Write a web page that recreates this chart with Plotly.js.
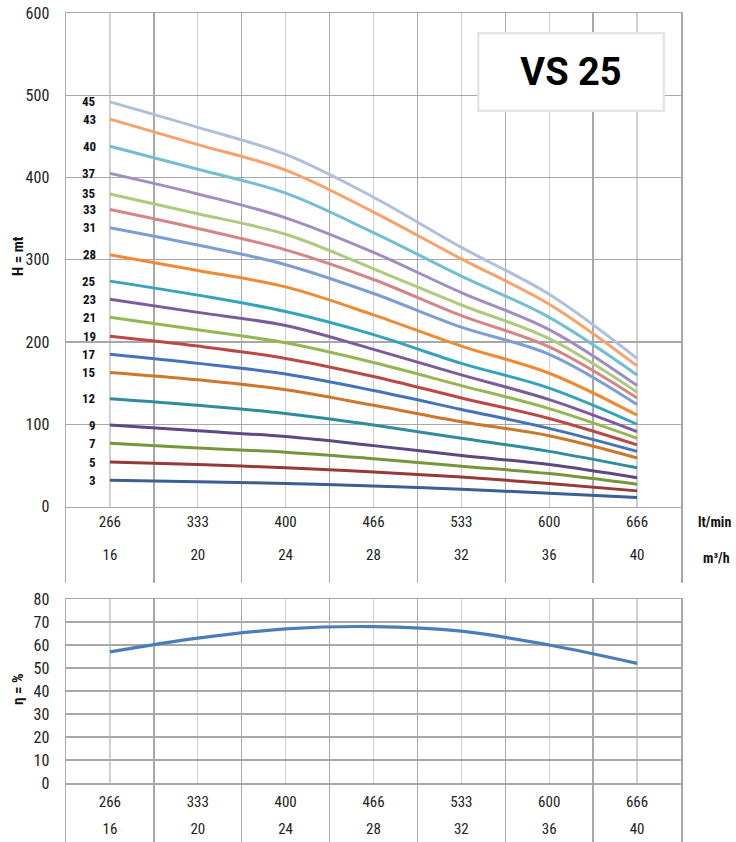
<!DOCTYPE html>
<html>
<head>
<meta charset="utf-8">
<script src="https://cdn.plot.ly/plotly-3.0.1.min.js"></script>
<style>html,body{margin:0;padding:0;background:#fff;}#chart{width:736px;height:842px;}</style>
</head>
<body>
<div id="chart"></div>
<script>
// ---- data ----
const flowLpm = ['266','333','400','466','533','600','666'];
const flowM3h = ['16','20','24','28','32','36','40'];
const stages = ['3','5','7','9','12','15','17','19','21','23','25','28','31','33','35','37','40','43','45'];
const H3  = [32, 30, 28, 25, 21, 16, 11];
const H5  = [54, 51, 47, 42, 36, 28, 19];
const H7  = [77, 71, 66, 58, 49, 40, 27];
const H9  = [99, 92, 85, 74, 62, 51, 35];
const H12 = [131, 123, 113, 99, 83, 67, 47];
const H15 = [163, 154, 142, 123, 103, 86, 59];
const H17 = [185, 174, 161, 141, 118, 95, 67];
const H19 = [207, 195, 180, 158, 132, 107, 75];
const H21 = [230, 215, 199, 175, 147, 119, 83];
const H23 = [252, 236, 220, 191, 160, 130, 91];
const H25 = [274, 257, 237, 209, 174, 144, 100];
const H28 = [306, 287, 267, 233, 195, 162, 111];
const H31 = [339, 318, 294, 259, 218, 185, 124];
const H33 = [361, 338, 312, 276, 232, 194, 132];
const H35 = [380, 356, 331, 289, 245, 204, 139];
const H37 = [405, 380, 351, 309, 260, 215, 147];
const H40 = [438, 410, 381, 333, 280, 230, 160];
const H43 = [471, 440, 409, 358, 301, 246, 171];
const H45 = [492, 461, 428, 376, 315, 258, 180];
const efficiency = [57, 63, 67, 68, 66, 60, 52];
const yTicksH = [0, 100, 200, 300, 400, 500, 600];
const yTicksEta = [0, 10, 20, 30, 40, 50, 60, 70, 80];

const heads = [H3,H5,H7,H9,H12,H15,H17,H19,H21,H23,H25,H28,H31,H33,H35,H37,H40,H43,H45];
const colors = ['#3B5E93','#953A37','#77963C','#5C4883','#2E8C9E','#CC772C','#4473B9','#BB4845','#95B652','#7A5C9E','#35A3BE','#EE8A32','#7B9ED4','#D58684','#ADCA7F','#A18EC1','#72BED3','#F8A26B','#B0BFDB'];

// pick an installed condensed face if there is one
function hasFont(f) {
  const c = document.createElement('canvas').getContext('2d');
  const t = '266 333 lt/min abcdefgWMQ';
  let diff = false;
  ['monospace', 'serif'].forEach(b => {
    c.font = '40px ' + b; const w0 = c.measureText(t).width;
    c.font = "40px '" + f + "', " + b; const w1 = c.measureText(t).width;
    if (Math.abs(w0 - w1) > 0.5) diff = true;
  });
  return diff;
}
const candidates = ['Roboto Condensed', 'Liberation Sans Narrow', 'Arial Narrow', 'DejaVu Sans Condensed', 'Noto Sans Condensed', 'Open Sans Condensed'];
let FONT = 'Roboto, sans-serif';
for (const f of candidates) { if (hasFont(f)) { FONT = "'" + f + "', Roboto, sans-serif"; break; } }

const xi = flowLpm.map((_, i) => i);

const traces = [];
heads.forEach((h, k) => {
  traces.push({x: xi, y: h, type: 'scatter', mode: 'lines', xaxis: 'x', yaxis: 'y',
    line: {color: colors[k], width: 3, shape: 'spline', smoothing: 1}, hoverinfo: 'skip'});
});
traces.push({x: xi, y: efficiency, type: 'scatter', mode: 'lines', xaxis: 'x2', yaxis: 'y2',
  line: {color: '#4A7EBB', width: 3.2, shape: 'spline', smoothing: 1}, hoverinfo: 'skip'});
// table rows
const tblFont = {family: FONT, size: 15, color: '#222'};
traces.push({x: xi, y: xi.map(() => 0.78), text: flowLpm, mode: 'text', type: 'scatter', xaxis: 'x3', yaxis: 'y3', textfont: tblFont, hoverinfo: 'skip'});
traces.push({x: xi, y: xi.map(() => 0.35), text: flowM3h, mode: 'text', type: 'scatter', xaxis: 'x3', yaxis: 'y3', textfont: tblFont, hoverinfo: 'skip'});
traces.push({x: xi, y: xi.map(() => 0.66), text: flowLpm, mode: 'text', type: 'scatter', xaxis: 'x4', yaxis: 'y4', textfont: tblFont, hoverinfo: 'skip'});
traces.push({x: xi, y: xi.map(() => 0.2), text: flowM3h, mode: 'text', type: 'scatter', xaxis: 'x4', yaxis: 'y4', textfont: tblFont, hoverinfo: 'skip'});

const H = 842;
const pd = px => (H - px) / H;
const GRID = '#a8a8a8', MINOR = '#d0d0d0';

function xAx(anchor, withMinor) {
  const a = {range: [-0.5, 6.5], anchor: anchor, domain: [0, 1], showticklabels: false, ticks: '',
    tick0: 0.5, dtick: 1, showgrid: true, gridcolor: GRID, gridwidth: 1.3, zeroline: false,
    showline: withMinor, mirror: withMinor, linecolor: GRID, linewidth: 1.5, fixedrange: true};
  if (withMinor) a.minor = {tick0: 0, dtick: 0.5, showgrid: true, gridcolor: MINOR, gridwidth: 1.3, ticks: ''};
  return a;
}

const layout = {
  width: 736, height: 842,
  margin: {l: 66, r: 55, t: 0, b: 0},
  paper_bgcolor: '#fff', plot_bgcolor: '#fff',
  showlegend: false,
  font: {family: FONT, size: 14, color: '#222'},
  xaxis: xAx('y', true),
  xaxis2: xAx('y2', true),
  xaxis3: xAx('y3', false),
  xaxis4: xAx('y4', false),
  yaxis: {domain: [pd(506.5), pd(13)], range: [0, 600], tickvals: yTicksH, showgrid: true, gridcolor: GRID, gridwidth: 1.3,
    zeroline: false, showline: true, mirror: true, linecolor: GRID, linewidth: 1.5, ticks: '', ticklabelstandoff: 12,
    tickfont: {family: FONT, size: 16, color: '#222'}, fixedrange: true},
  yaxis2: {domain: [pd(783), pd(599)], range: [0, 80], tickvals: yTicksEta, showgrid: true, gridcolor: GRID, gridwidth: 1.3,
    zeroline: false, showline: true, mirror: true, linecolor: GRID, linewidth: 1.5, ticks: '', ticklabelstandoff: 12,
    tickfont: {family: FONT, size: 16, color: '#222'}, fixedrange: true},
  yaxis3: {domain: [pd(583), pd(506.5)], range: [0, 1], showgrid: false, zeroline: false, showticklabels: false,
    showline: true, mirror: true, linecolor: GRID, linewidth: 1.5, ticks: '', fixedrange: true},
  yaxis4: {domain: [0, pd(783)], range: [0, 1], showgrid: false, zeroline: false, showticklabels: false,
    showline: true, mirror: true, linecolor: GRID, linewidth: 1.5, ticks: '', fixedrange: true},
  annotations: []
};

// curve labels
stages.forEach((s, k) => {
  layout.annotations.push({x: 0, y: heads[k][0], xref: 'x', yref: 'y', text: '<b>' + s + '</b>', showarrow: false,
    xanchor: 'right', yanchor: 'middle', xshift: -12, font: {family: FONT, size: 13, color: '#111'}});
});
// title box
layout.annotations.push({xref: 'paper', yref: 'paper', x: (570.5 - 66) / 615, y: pd(71.5), text: '<b>VS 25</b>',
  showarrow: false, xanchor: 'center', yanchor: 'middle', width: 181, height: 73, bgcolor: '#fff',
  bordercolor: '#e4e5ea', borderwidth: 2.5, font: {family: 'Roboto, Arial, sans-serif', size: 38, color: '#000'}});
// axis titles
layout.annotations.push({xref: 'paper', yref: 'paper', x: (18 - 66) / 615, y: pd(256), text: '<b>H = mt</b>', textangle: -90,
  showarrow: false, xanchor: 'center', yanchor: 'middle', font: {family: FONT, size: 15, color: '#111'}});
layout.annotations.push({xref: 'paper', yref: 'paper', x: (18 - 66) / 615, y: pd(690), text: '<b>η = %</b>', textangle: -90,
  showarrow: false, xanchor: 'center', yanchor: 'middle', font: {family: FONT, size: 15, color: '#111'}});
// unit labels
layout.annotations.push({xref: 'paper', yref: 'paper', x: (715 - 66) / 615, y: pd(522), text: '<b>lt/min</b>',
  showarrow: false, xanchor: 'center', yanchor: 'middle', font: {family: FONT, size: 14, color: '#111'}});
layout.annotations.push({xref: 'paper', yref: 'paper', x: (716 - 66) / 615, y: pd(558), text: '<b>m³/h</b>',
  showarrow: false, xanchor: 'center', yanchor: 'middle', font: {family: FONT, size: 14, color: '#111'}});

Plotly.newPlot('chart', traces, layout, {staticPlot: true, displayModeBar: false});
</script>
</body>
</html>
